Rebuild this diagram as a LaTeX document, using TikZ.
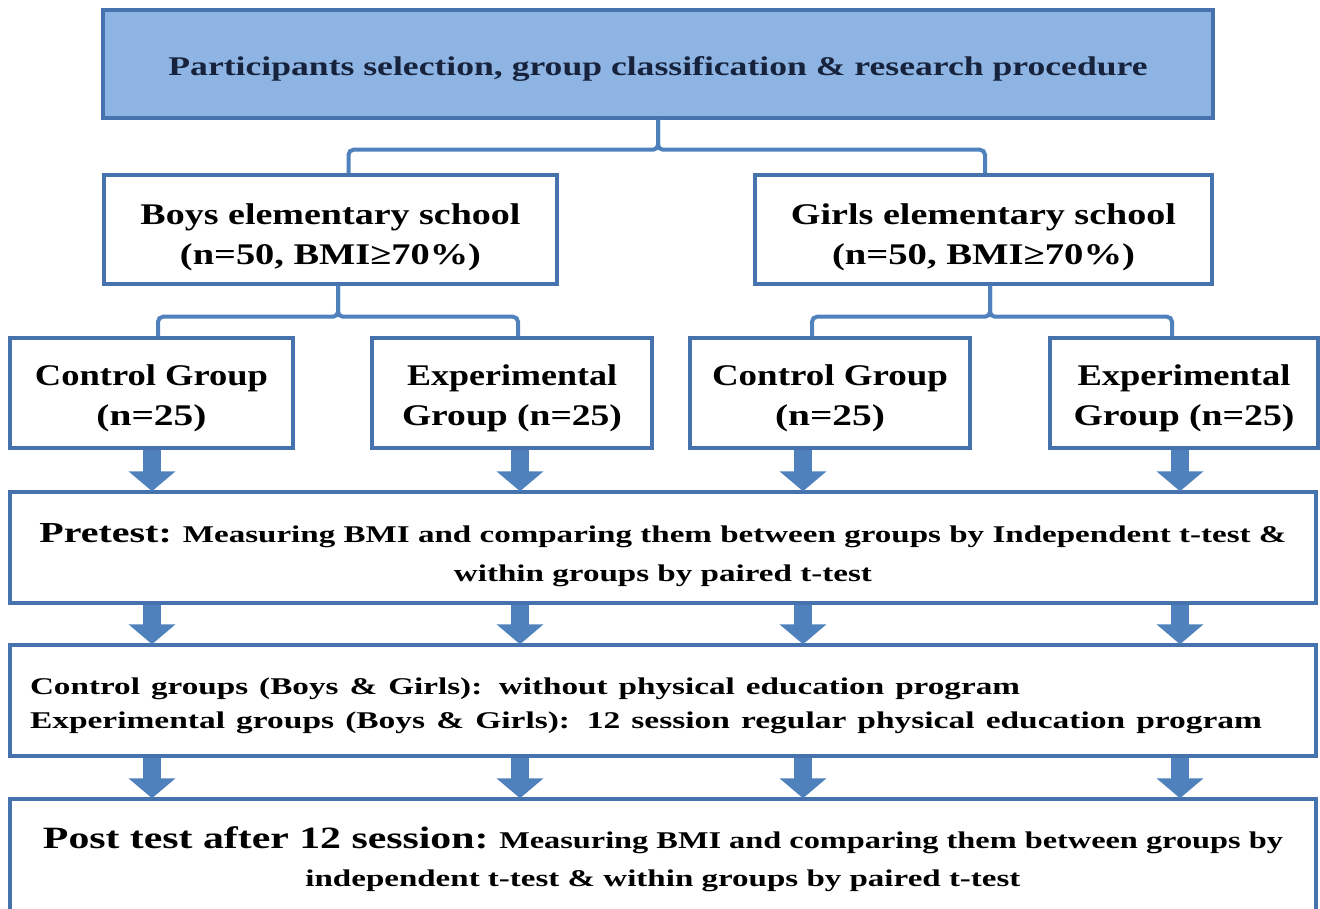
\documentclass[tikz,border=0pt]{standalone}
\usepackage{fontspec}
\usepackage{graphicx}
\setmainfont{Liberation Serif}
\usetikzlibrary{arrows.meta,shadows}
\definecolor{boxblue}{HTML}{4673AE}
\definecolor{shadowblue}{HTML}{A9BEDA}
\definecolor{titlefill}{HTML}{8EB4E3}
\definecolor{arrowblue}{HTML}{4F81BD}
\definecolor{titletext}{HTML}{17233D}
% stretch one line of text to a given width (pt), keeping its height
\newcommand\wl[2]{\resizebox{#1pt}{\height}{#2}}
% vertical strut on first line to lower text inside a box
\newcommand\up[1]{\rule{0pt}{#1pt}}
\tikzset{
  stagebox/.style={draw=boxblue, line width=3.5pt, fill=white, inner sep=0pt,
    drop shadow={shadow xshift=2pt, shadow yshift=-2pt, fill=shadowblue, opacity=1}},
  bigtext/.style={font=\bfseries\fontsize{30}{40}\selectfont, align=center},
  conn/.style={draw=arrowblue, line width=4pt, rounded corners=5pt},
  blockarrow/.style={draw=arrowblue, line width=18pt,
    -{Triangle[width=46pt,length=20pt]}, shorten >=-1pt}
}
\begin{document}
\begin{tikzpicture}[x=1pt,y=-1pt]
\useasboundingbox (0,0) rectangle (1320,909);
\clip (0,0) rectangle (1320,909);
\fill[white] (0,0) rectangle (1320,909);

% title
\node[stagebox, fill=titlefill, minimum width=1110pt, minimum height=108pt,
      font=\bfseries\fontsize{27}{32}\selectfont, text=titletext] (title) at (658,64)
  {\up{28}\wl{979}{Participants selection, group classification \& research procedure}};

% schools
\node[stagebox, bigtext, minimum width=453pt, minimum height=109pt] (boys) at (330.5,229.5)
  {\up{36}\wl{380}{Boys elementary school}\\\wl{301}{(n=50, BMI≥70\%)}};
\node[stagebox, bigtext, minimum width=457pt, minimum height=109pt] (girls) at (983.5,229.5)
  {\up{36}\wl{385}{Girls elementary school}\\\wl{303}{(n=50, BMI≥70\%)}};

% groups
\node[stagebox, bigtext, minimum width=283pt, minimum height=110pt] (cb) at (151.5,393)
  {\up{32}\wl{233}{Control Group}\\\wl{110}{(n=25)}};
\node[stagebox, bigtext, minimum width=280pt, minimum height=110pt] (eb) at (512,393)
  {\up{32}\wl{210}{Experimental}\\\wl{220}{Group (n=25)}};
\node[stagebox, bigtext, minimum width=280pt, minimum height=110pt] (cg) at (830,393)
  {\up{32}\wl{236}{Control Group}\\\wl{110}{(n=25)}};
\node[stagebox, bigtext, minimum width=268pt, minimum height=110pt] (eg) at (1184,393)
  {\up{32}\wl{213}{Experimental}\\\wl{221}{Group (n=25)}};

% stage boxes
\node[stagebox, minimum width=1306pt, minimum height=111pt, align=center,
      font=\bfseries\fontsize{24}{39}\selectfont] (pre) at (663,547.5)
  {\up{34}\wl{1247}{{\fontsize{29}{39}\selectfont Pretest:} Measuring BMI and comparing them between groups by Independent t-test \&}\\
   \wl{418}{within groups by paired t-test}};
\node[stagebox, minimum width=1306pt, minimum height=111pt, align=left, text width=1266pt,
      font=\bfseries\fontsize{24}{34}\selectfont] (mid) at (663,700.5)
  {\up{28}\wl{990}{Control groups (Boys \& Girls): without physical education program}\\
   \wl{1232}{Experimental groups (Boys \& Girls): 12 session regular physical education program}};
\node[stagebox, minimum width=1306pt, minimum height=120pt, align=center,
      font=\bfseries\fontsize{24}{38}\selectfont] (post) at (663,859)
  {\wl{1240}{{\fontsize{31}{38}\selectfont Post test after 12 session:} Measuring BMI and comparing them between groups by}\\
   \wl{715}{independent t-test \& within groups by paired t-test}};

% tree connectors
\draw[conn] (title.south) -- ++(0,30) -| ([xshift=18pt]boys.north);
\draw[conn] (title.south) -- ++(0,30) -| ([xshift=1.5pt]girls.north);
\draw[conn] ([xshift=7.5pt]boys.south) -- ++(0,31) -| ([xshift=6.5pt]cb.north);
\draw[conn] ([xshift=7.5pt]boys.south) -- ++(0,31) -| ([xshift=6pt]eb.north);
\draw[conn] ([xshift=6.5pt]girls.south) -- ++(0,31) -| ([xshift=-18pt]cg.north);
\draw[conn] ([xshift=6.5pt]girls.south) -- ++(0,31) -| ([xshift=-12pt]eg.north);

% block arrow columns
\coordinate (c1) at (152,0);
\coordinate (c2) at (520,0);
\coordinate (c3) at (803,0);
\coordinate (c4) at (1180,0);
\draw[blockarrow] (cb.south -| c1) -- (pre.north -| c1);
\draw[blockarrow] (eb.south -| c2) -- (pre.north -| c2);
\draw[blockarrow] (cg.south -| c3) -- (pre.north -| c3);
\draw[blockarrow] (eg.south -| c4) -- (pre.north -| c4);
\foreach \c in {c1,c2,c3,c4} {
  \draw[blockarrow] (pre.south -| \c) -- (mid.north -| \c);
  \draw[blockarrow] (mid.south -| \c) -- (post.north -| \c);
}
\end{tikzpicture}
\end{document}
